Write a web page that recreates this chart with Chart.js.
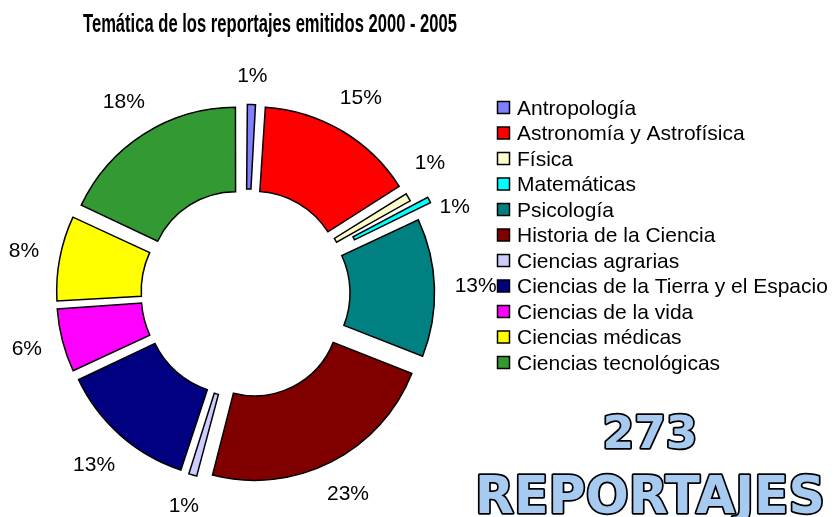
<!DOCTYPE html>
<html lang="es">
<head>
<meta charset="utf-8">
<title>Temática de los reportajes emitidos 2000 - 2005</title>
<script src="https://cdn.jsdelivr.net/npm/chart.js@4.4.1/dist/chart.umd.min.js"></script>
<style>
  html, body { margin: 0; padding: 0; background: #fff; }
  .chart-box { position: relative; width: 835px; height: 517px; }
</style>
</head>
<body>
<div class="chart-box"><canvas id="tematicaChart"></canvas></div>
<script>
const chartTitle = 'Temática de los reportajes emitidos 2000 - 2005';
const categories = [
  'Antropología',
  'Astronomía y Astrofísica',
  'Física',
  'Matemáticas',
  'Psicología',
  'Historia de la Ciencia',
  'Ciencias agrarias',
  'Ciencias de la Tierra y el Espacio',
  'Ciencias de la vida',
  'Ciencias médicas',
  'Ciencias tecnológicas'
];
const percentages = [1, 15, 1, 1, 13, 23, 1, 13, 6, 8, 18];
const sliceColors = [
  '#8080ff', '#ff0000', '#ffffcc', '#00ffff', '#008080', '#800000',
  '#ccccff', '#000080', '#ff00ff', '#ffff00', '#339933'
];
const totalReportajes = 273;
const totalCaption = 'REPORTAJES';

// Chart.js moves a slice out by offset/4 and also grows the radius of thin
// slices by offset/4 * (1 - sin(circumference)); undo that so every slice
// is pulled out by the same distance (Matemáticas sticks out further).
function explodeOffset(ctx) {
  const i = ctx.dataIndex;
  const push = categories[i] === 'Matemáticas' ? 37 : 20;
  const circ = percentages[i] / 100 * Math.PI * 2;
  const fix = 1 - Math.sin(Math.min(Math.PI, circ));
  return 4 * push / (1 + fix);
}

// draw text squeezed/stretched to a given width
function fitText(ctx, text, cx, baseline, width, draw) {
  const natural = ctx.measureText(text).width;
  ctx.save();
  ctx.translate(cx, baseline);
  ctx.scale(width / natural, 1);
  ctx.textAlign = 'center';
  ctx.textBaseline = 'alphabetic';
  draw(text);
  ctx.restore();
}

// keep neighbouring labels at least minGap radians apart
function spreadAngles(angles, minGap) {
  const out = angles.slice();
  for (let i = 1; i < out.length; i++) {
    const gap = out[i] - out[i - 1];
    if (gap < minGap) {
      const mid = (out[i] + out[i - 1]) / 2;
      out[i - 1] = mid - minGap / 2;
      out[i] = mid + minGap / 2;
    }
  }
  return out;
}

const decorPlugin = {
  id: 'decor',
  afterDraw(chart) {
    const ctx = chart.ctx;
    const meta = chart.getDatasetMeta(0);

    // title
    ctx.save();
    ctx.fillStyle = '#000';
    ctx.font = 'bold 25px "Liberation Sans Narrow", "Liberation Sans", Arial, sans-serif';
    fitText(ctx, chartTitle, 270, 32, 374, t => ctx.fillText(t, 0, 0));
    ctx.restore();

    // percentage labels outside the ring, nearest box edge at a fixed gap
    const mids = meta.data.map(a => (a.startAngle + a.endAngle) / 2);
    const angles = spreadAngles(mids, 13 * Math.PI / 180);
    ctx.save();
    ctx.font = '21px "Liberation Sans", Arial, sans-serif';
    ctx.fillStyle = '#000';
    ctx.textAlign = 'center';
    ctx.textBaseline = 'middle';
    meta.data.forEach((arc, i) => {
      const text = percentages[i] + '%';
      const halfW = ctx.measureText(text).width / 2;
      const cos = Math.cos(angles[i]);
      const sin = Math.sin(angles[i]);
      const r = arc.outerRadius + 40 + Math.abs(cos) * halfW + Math.abs(sin) * 8;
      ctx.fillText(text, arc.x + cos * r, arc.y + sin * r);
    });
    ctx.restore();

    // legend
    ctx.save();
    ctx.font = '21px "Liberation Sans", Arial, sans-serif';
    ctx.textBaseline = 'middle';
    ctx.textAlign = 'left';
    categories.forEach((name, i) => {
      const y = 108 + i * 25.5;
      ctx.fillStyle = sliceColors[i];
      ctx.fillRect(497.5, y - 6.5, 12, 12);
      ctx.strokeStyle = '#000';
      ctx.lineWidth = 1.5;
      ctx.strokeRect(497.5, y - 6.5, 12, 12);
      ctx.fillStyle = '#000';
      ctx.fillText(name, 517, y + 1);
    });
    ctx.restore();

    // total count
    ctx.save();
    ctx.lineJoin = 'round';
    ctx.strokeStyle = '#000';
    ctx.fillStyle = '#a6caf0';
    ctx.lineWidth = 3.5;
    ctx.font = 'bold 45px "DejaVu Sans", sans-serif';
    fitText(ctx, String(totalReportajes), 650, 448, 95, t => {
      ctx.strokeText(t, 0, 0);
      ctx.fillText(t, 0, 0);
    });
    ctx.font = 'bold 51px "DejaVu Sans", sans-serif';
    fitText(ctx, totalCaption, 650, 513, 350, t => {
      ctx.strokeText(t, 0, 0);
      ctx.fillText(t, 0, 0);
    });
    ctx.restore();
  }
};

new Chart(document.getElementById('tematicaChart'), {
  type: 'doughnut',
  data: {
    labels: categories,
    datasets: [{
      data: percentages,
      backgroundColor: sliceColors,
      borderColor: '#000',
      borderWidth: 1.5,
      borderJoinStyle: 'miter',
      offset: explodeOffset
    }]
  },
  options: {
    responsive: true,
    maintainAspectRatio: false,
    animation: false,
    events: [],
    cutout: '50%',
    layout: {
      padding: { left: 36, top: 84, right: 380, bottom: 14 }
    },
    plugins: {
      legend: { display: false },
      title: { display: false },
      tooltip: { enabled: false }
    }
  },
  plugins: [decorPlugin]
});
</script>
</body>
</html>
